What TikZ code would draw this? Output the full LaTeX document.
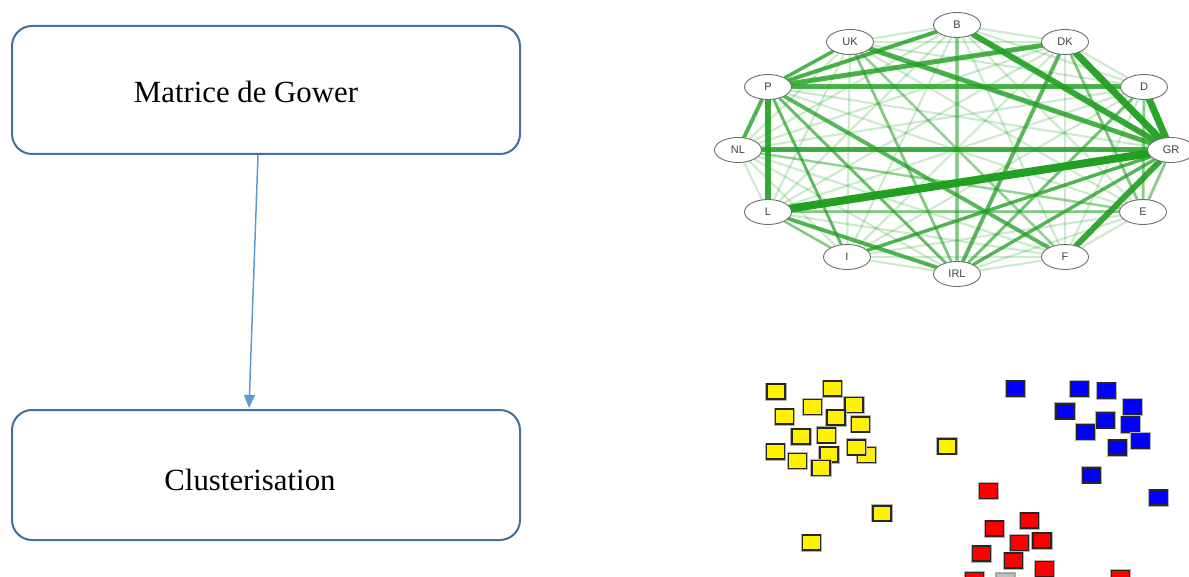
\documentclass[tikz,border=0pt]{standalone}
\usepackage{fontspec}
\setmainfont{Liberation Serif}
\newfontfamily\netfont{Liberation Sans}
\usetikzlibrary{shapes.geometric,arrows.meta}
\definecolor{boxline}{RGB}{65,113,156}
\definecolor{arrowc}{RGB}{91,155,213}
\definecolor{netg}{RGB}{34,160,34}
\definecolor{nodeline}{RGB}{110,110,110}
\pgfdeclarelayer{edges}
\pgfsetlayers{edges,main}
\tikzset{
  stepbox/.style={draw=boxline, line width=2pt, rounded corners=20pt, fill=white,
    minimum width=508pt, inner sep=0pt},
  boxtext/.style={font=\fontsize{30.8}{36}\selectfont, inner sep=0pt},
  flow/.style={draw=arrowc, line width=1.5pt, -{Triangle[length=13pt,width=11pt]}},
  country/.style={ellipse, draw=nodeline, line width=0.9pt, fill=white,
    minimum width=47pt, minimum height=25pt, inner sep=0pt,
    font=\netfont\fontsize{11}{12}\selectfont, text=black!75},
  netedge/.style={draw=netg, line cap=round},
  sq/.style={rectangle, minimum width=18pt, minimum height=15pt, inner sep=0pt,
    draw=black!85, line width=1.5pt,
    preaction={draw=black!30, line width=3.2pt}},
  sqy/.style={sq, fill=yellow},
  sqb/.style={sq, fill=blue},
  sqr/.style={sq, fill=red},
  sqg/.style={sq, fill=black!25, draw=black!40},
}
\begin{document}
\begin{tikzpicture}[x=1pt,y=-1pt]
\useasboundingbox (0,0) rectangle (1189,577);
\clip (0,0) rectangle (1189,577);

% Flow boxes
\node[stepbox, minimum height=128pt] (gower) at (266,90) {};
\node[boxtext] (gowert) at (246,92) {Matrice de Gower};
\node[stepbox, minimum height=130pt] (clust) at (266,475) {};
\node[boxtext] (clustt) at (250,480) {Clusterisation};
\draw[flow] ([xshift=-8pt]gower.south) -- ([xshift=-17pt,yshift=1pt]clust.north);

% Network nodes
\node[country] (B)   at (957,25)  {B};
\node[country] (UK)  at (850,42)  {UK};
\node[country] (DK)  at (1065,42) {DK};
\node[country] (P)   at (768,87)  {P};
\node[country] (D)   at (1144,87) {D};
\node[country] (NL)  at (738,150) {NL};
\node[country] (GR)  at (1171,150) {GR};
\node[country] (L)   at (768,212) {L};
\node[country] (E)   at (1143,212) {E};
\node[country] (I)   at (847,257) {I};
\node[country] (F)   at (1065,257) {F};
\node[country] (IRL) at (957,274) {IRL};

\begin{pgfonlayer}{edges}
  % faint complete graph
  \foreach \a [count=\i] in {B,UK,DK,P,D,NL,GR,L,E,I,F,IRL}{
    \foreach \b [count=\j] in {B,UK,DK,P,D,NL,GR,L,E,I,F,IRL}{
      \ifnum\j>\i
        \draw[netedge, line width=2.2pt, draw opacity=0.22] (\a) -- (\b);
      \fi
    }
  }
  % stronger links
  \foreach \a/\b/\w/\o in {
    B/IRL/3.5/0.45, UK/IRL/3/0.45, L/E/3/0.45, DK/E/3/0.45, L/I/2.5/0.45,
    NL/E/2.5/0.35, UK/F/2.5/0.35, D/E/3/0.4, E/GR/3/0.4,
    P/IRL/3/0.6, P/I/3/0.65, IRL/D/3/0.55, IRL/GR/3.5/0.7, IRL/DK/4/0.7,
    L/IRL/4/0.75, I/GR/3.5/0.75, P/F/4/0.7, P/NL/4/0.75, P/UK/3.5/0.75,
    P/B/4/0.8, UK/GR/5/0.8, P/D/5/0.8, P/DK/5/0.8, NL/GR/5/0.85,
    P/L/6/0.9, F/GR/6/0.9, B/GR/6/0.9, D/GR/7/0.95, DK/GR/7/0.95, L/GR/8/1}
    \draw[netedge, line width=\w pt, draw opacity=\o] (\a) -- (\b);
\end{pgfonlayer}

% Scatter: yellow cluster
\foreach \x/\y [count=\i] in {776/391.7, 832.3/388.7, 812.3/407, 854/405, 784.7/416.7,
  836/417.7, 860.7/424.3, 801/436.7, 826.3/435.3, 775.7/451.7, 797.3/461,
  829/454.7, 866.3/455, 856.7/447.3, 821/468, 947/446.3, 882/513.3, 811.3/542.7}
  \node[sqy] (y\i) at (\x,\y) {};
% blue cluster
\foreach \x/\y [count=\i] in {1015.7/388.7, 1079.3/389, 1106.7/390.7, 1065/411.3,
  1132.3/407, 1105.7/420.3, 1130.3/424.7, 1085.7/432, 1140.3/441, 1117.7/447.7,
  1091.7/475.3, 1158.3/497.7}
  \node[sqb] (b\i) at (\x,\y) {};
% red cluster
\node[sqg] (g1) at (1005.7,581) {};
\foreach \x/\y [count=\i] in {988.3/491, 1029.7/520.7, 994.7/528.7, 1019.3/543,
  1042/540.7, 981.3/553.7, 1013.3/560.7, 1044.7/569, 974.3/580, 1120.7/578}
  \node[sqr] (r\i) at (\x,\y) {};
\end{tikzpicture}
\end{document}
